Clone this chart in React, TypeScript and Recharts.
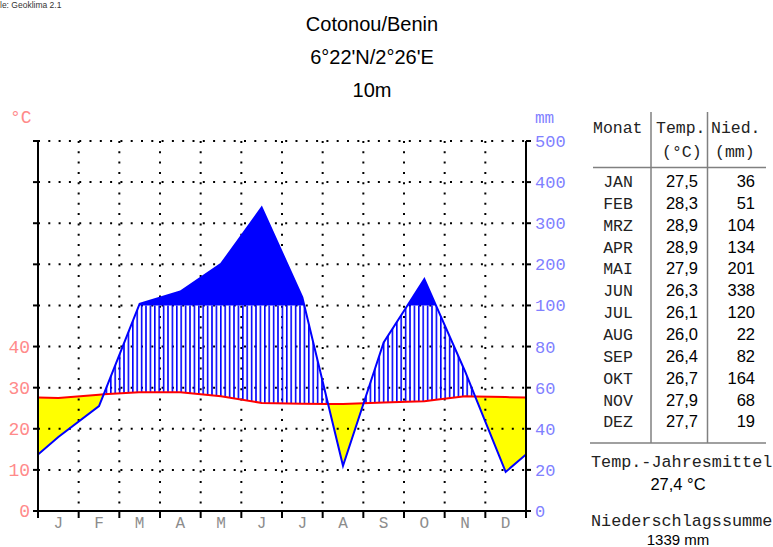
import React from 'react'
import { ComposedChart, Area, Line, XAxis, YAxis, CartesianGrid } from 'recharts'

const monthLetters = ['J', 'F', 'M', 'A', 'M', 'J', 'J', 'A', 'S', 'O', 'N', 'D']
const monthNames = ['JAN', 'FEB', 'MRZ', 'APR', 'MAI', 'JUN', 'JUL', 'AUG', 'SEP', 'OKT', 'NOV', 'DEZ']
const tempC = [27.5, 28.3, 28.9, 28.9, 27.9, 26.3, 26.1, 26.0, 26.4, 26.7, 27.9, 27.7]
const precipMm = [36, 51, 104, 134, 201, 338, 120, 22, 82, 164, 68, 19]
const scaleTicks = [0, 10, 20, 30, 40, 50, 60, 70, 80, 90]
const monthTicks = [0, 1, 2, 3, 4, 5, 6, 7, 8, 9, 10, 11, 12]
const annualMean = '27,4 °C'
const annualSum = '1339 mm'

const W = 773
const H = 547
const M = { top: 141, right: 197, bottom: 6, left: 8 }
const LEFT_AXIS_W = 30
const RIGHT_AXIS_W = 50
const plotW = W - M.left - M.right - LEFT_AXIS_W - RIGHT_AXIS_W
const MONO = '"Liberation Mono", "DejaVu Sans Mono", monospace'
const SANS = '"Liberation Sans", Arial, sans-serif'

// precipitation on the temperature scale: 20 mm = 10 °C up to 100 mm, then 100 mm = 10 °C
const toScale = (mm: number) => (mm <= 100 ? mm / 2 : 50 + (mm - 100) / 10)
const toMm = (v: number) => (v <= 50 ? v * 2 : 100 + (v - 50) * 10)
const fmt = (v: number) => v.toFixed(1).replace('.', ',')

type Pt = { x: number; t: number; p: number }

function buildData() {
  // lines run out to the plot edges halfway between Dec and Jan
  const edgeT = (tempC[11] + tempC[0]) / 2
  const edgeP = (toScale(precipMm[11]) + toScale(precipMm[0])) / 2
  const pts: Pt[] = [{ x: 0, t: edgeT, p: edgeP }]
  tempC.forEach((t, i) => pts.push({ x: i + 0.5, t, p: toScale(precipMm[i]) }))
  pts.push({ x: 12, t: edgeT, p: edgeP })

  // add the crossing points so the filled bands meet exactly at the lines
  const out: Pt[] = []
  for (let i = 0; i < pts.length; i++) {
    const a = pts[i]
    out.push(a)
    const b = pts[i + 1]
    if (!b) break
    const cuts: number[] = []
    const d1 = a.p - a.t
    const d2 = b.p - b.t
    if (d1 * d2 < 0) cuts.push(d1 / (d1 - d2))
    const e1 = a.p - 50
    const e2 = b.p - 50
    if (e1 * e2 < 0) cuts.push(e1 / (e1 - e2))
    cuts
      .sort((m, n) => m - n)
      .forEach((f) =>
        out.push({
          x: a.x + (b.x - a.x) * f,
          t: a.t + (b.t - a.t) * f,
          p: a.p + (b.p - a.p) * f,
        })
      )
  }
  return out.map((d) => ({
    ...d,
    dry: [Math.min(d.p, d.t), d.t],
    wet: [d.t, Math.max(d.t, Math.min(d.p, 50))],
    perhumid: [50, Math.max(50, d.p)],
  }))
}

const chartData = buildData()

const MonthTick = (props: any) => {
  const { x, y, payload } = props
  if (payload.value >= 12) return null
  return (
    <text
      x={x + plotW / 24}
      y={y + 8}
      textAnchor="middle"
      fill="#8c8c8c"
      fontFamily={MONO}
      fontSize={16}
    >
      {monthLetters[payload.value]}
    </text>
  )
}

function Table() {
  const rowY = (i: number) => 187 + i * 21.85
  return (
    <svg
      width={W}
      height={H}
      style={{ position: 'absolute', left: 0, top: 0, pointerEvents: 'none' }}
    >
      <text x={0} y={8} fontFamily={SANS} fontSize={8.5} fill="#333">
        le: Geoklima 2.1
      </text>
      <g fontFamily={SANS} fontSize={20} textAnchor="middle" fill="#000">
        <text x={372} y={31}>Cotonou/Benin</text>
        <text x={372} y={64}>6°22'N/2°26'E</text>
        <text x={372} y={97}>10m</text>
      </g>
      <text x={10} y={123} fontFamily={MONO} fontSize={18} fill="#ff8a8a">
        °C
      </text>
      <text x={535} y={123} fontFamily={MONO} fontSize={16} fill="#8080ff">
        mm
      </text>

      <g stroke="#808080" strokeWidth={1.5}>
        <line x1={651} y1={112} x2={651} y2={443} />
        <line x1={707.5} y1={112} x2={707.5} y2={443} />
        <line x1={593} y1={167.5} x2={766} y2={167.5} />
        <line x1={590} y1={443} x2={766} y2={443} />
      </g>
      <g fontFamily={MONO} fontSize={16.5} fill="#222">
        <text x={593} y={133}>Monat</text>
        <text x={656} y={133}>Temp.</text>
        <text x={711} y={133}>Nied.</text>
        <text x={662} y={157}>(°C)</text>
        <text x={715} y={157}>(mm)</text>
      </g>
      {monthNames.map((m, i) => (
        <g key={m}>
          <text x={618} y={rowY(i)} textAnchor="middle" fontFamily={MONO} fontSize={16.5} fill="#222">
            {m}
          </text>
          <text x={698} y={rowY(i)} textAnchor="end" fontFamily={SANS} fontSize={16.5} fill="#000">
            {fmt(tempC[i])}
          </text>
          <text x={755} y={rowY(i)} textAnchor="end" fontFamily={SANS} fontSize={16.5} fill="#000">
            {precipMm[i]}
          </text>
        </g>
      ))}
      <text x={591} y={467} fontFamily={MONO} fontSize={16.8} fill="#222">
        Temp.-Jahresmittel
      </text>
      <text x={678} y={490} textAnchor="middle" fontFamily={SANS} fontSize={16.5} fill="#000">
        {annualMean}
      </text>
      <text x={591} y={526} fontFamily={MONO} fontSize={16.8} fill="#222">
        Niederschlagssumme
      </text>
      <text x={678} y={545} textAnchor="middle" fontFamily={SANS} fontSize={15} fill="#000">
        {annualSum}
      </text>
    </svg>
  )
}

export default function App() {
  return (
    <div style={{ position: 'absolute', left: 0, top: 0, width: W, height: H, background: '#fff' }}>
      <ComposedChart width={W} height={H} data={chartData} margin={M}>
        <defs>
          <pattern id="hatch" patternUnits="userSpaceOnUse" width={4.4} height={10}>
            <rect x={0} y={0} width={1.6} height={10} fill="#0000ff" />
          </pattern>
        </defs>
        <XAxis
          type="number"
          dataKey="x"
          domain={[0, 12]}
          ticks={monthTicks}
          interval={0}
          height={30}
          tickSize={7}
          tickMargin={2}
          axisLine={{ stroke: '#000', strokeWidth: 2 }}
          tickLine={{ stroke: '#000', strokeWidth: 2 }}
          tick={<MonthTick />}
          allowDataOverflow
        />
        <YAxis
          domain={[0, 90]}
          ticks={scaleTicks}
          interval={0}
          width={LEFT_AXIS_W}
          tickSize={5}
          tickMargin={3}
          tickFormatter={(v: number) => (v <= 40 ? String(v) : '')}
          axisLine={{ stroke: '#000', strokeWidth: 2 }}
          tickLine={{ stroke: '#000', strokeWidth: 2 }}
          tick={{ fill: '#ff8a8a', fontSize: 18, fontFamily: MONO }}
          allowDataOverflow
        />
        <YAxis
          yAxisId="r"
          orientation="right"
          domain={[0, 90]}
          ticks={scaleTicks}
          interval={0}
          width={RIGHT_AXIS_W}
          tickSize={5}
          tickMargin={4}
          tickFormatter={(v: number) => String(toMm(v))}
          axisLine={{ stroke: '#000', strokeWidth: 2 }}
          tickLine={{ stroke: '#000', strokeWidth: 2 }}
          tick={{ fill: '#8080ff', fontSize: 17, fontFamily: MONO, textAnchor: 'start' }}
          allowDataOverflow
        />
        {/* yellow dry season sits under the dotted grid, like the original */}
        <Area
          type="linear"
          dataKey="dry"
          fill="#ffff00"
          fillOpacity={1}
          stroke="none"
          zIndex={-150}
          isAnimationActive={false}
        />
        <CartesianGrid stroke="#000" strokeWidth={2} strokeDasharray="2 8.3" />
        <Area
          type="linear"
          dataKey="wet"
          fill="url(#hatch)"
          fillOpacity={1}
          stroke="none"
          isAnimationActive={false}
        />
        <Area
          type="linear"
          dataKey="perhumid"
          fill="#0000ff"
          fillOpacity={1}
          stroke="none"
          isAnimationActive={false}
        />
        <Line type="linear" dataKey="t" stroke="#ff0000" strokeWidth={2} dot={false} isAnimationActive={false} />
        <Line type="linear" dataKey="p" stroke="#0000ff" strokeWidth={2} dot={false} isAnimationActive={false} />
      </ComposedChart>
      <Table />
    </div>
  )
}
